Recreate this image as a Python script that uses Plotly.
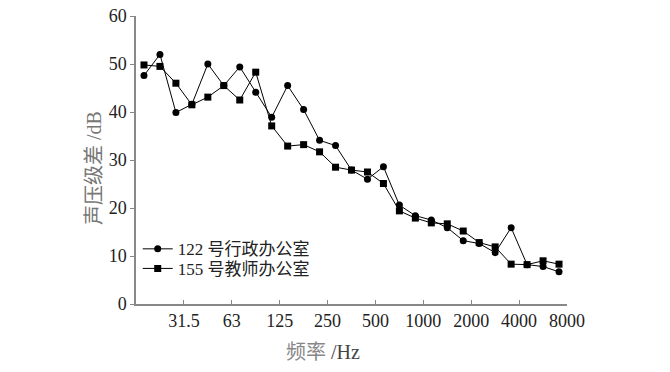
import plotly.graph_objects as go

bands = [20, 25, 31.5, 40, 50, 63, 80, 100, 125, 160, 200, 250, 315, 400, 500,
         630, 800, 1000, 1250, 1600, 2000, 2500, 3150, 4000, 5000, 6300, 8000]
office_122 = [47.6, 52.0, 39.9, 41.6, 50.0, 45.5, 49.4, 44.1, 38.9, 45.5, 40.5,
              34.1, 33.0, 27.9, 26.0, 28.6, 20.6, 18.4, 17.5, 15.9, 13.2, 12.6,
              10.7, 15.9, 8.2, 7.8, 6.7]
office_155 = [49.8, 49.5, 46.0, 41.5, 43.1, 45.5, 42.5, 48.3, 37.1, 32.9, 33.2,
              31.7, 28.5, 27.9, 27.5, 25.1, 19.4, 17.9, 16.9, 16.7, 15.2, 12.8,
              11.9, 8.3, 8.2, 9.0, 8.3]
tick_labels = ["31.5", "63", "125", "250", "500", "1000", "2000", "4000", "8000"]
series_names = ["122 号行政办公室", "155 号教师办公室"]

idx = list(range(len(bands)))
tick_pos = [i * 3 + 2.5 for i in range(len(tick_labels))]

SERIF = "'Liberation Serif', 'Noto Sans CJK SC'"

fig = go.Figure()
fig.add_trace(go.Scatter(
    x=idx, y=office_122, mode="lines+markers", name=series_names[0],
    line=dict(color="black", width=1),
    marker=dict(symbol="circle", size=7, color="black"),
    customdata=bands, legend="legend"))
fig.add_trace(go.Scatter(
    x=idx, y=office_155, mode="lines+markers", name=series_names[1],
    line=dict(color="black", width=1),
    marker=dict(symbol="square", size=7, color="black"),
    customdata=bands, legend="legend2"))

axis_font = dict(family=SERIF, size=18, color="#222")
leg_common = dict(xanchor="left", yanchor="middle", bgcolor="rgba(0,0,0,0)",
                  font=dict(family=SERIF, size=17, color="#222"), itemwidth=30)
fig.update_layout(
    width=670, height=372,
    margin=dict(l=136, r=103, t=16, b=68, autoexpand=False),
    paper_bgcolor="white", plot_bgcolor="white",
    font=dict(family=SERIF, color="#222"),
    showlegend=True,
    legend=dict(x=0.004, y=0.19, **leg_common),
    legend2=dict(x=0.004, y=0.122, **leg_common),
    xaxis=dict(range=[-0.5, 26.5], tickmode="array", tickvals=tick_pos,
               ticktext=tick_labels, ticks="inside", ticklen=4, tickcolor="#888",
               showline=True, linecolor="#888", linewidth=1.5, showgrid=False,
               zeroline=False, tickfont=axis_font, automargin=False,
               ticklabeloverflow="allow"),
    yaxis=dict(range=[0, 60], dtick=10, ticks="outside", ticklen=4, tickcolor="#888",
               showline=True, linecolor="#888", linewidth=1.5, showgrid=False,
               zeroline=False, tickfont=axis_font, automargin=False,
               ticklabeloverflow="allow"),
    annotations=[
        dict(text="<span style='color:#888'>频率</span> /Hz", xref="paper", yref="paper",
             x=0.434, y=-0.167, xanchor="center", yanchor="middle",
             showarrow=False, font=dict(family=SERIF, size=20, color="#444")),
        dict(text="声压级差 /dB", xref="paper", yref="paper", textangle=-90,
             x=-0.0975, y=0.472, xanchor="center", yanchor="middle",
             showarrow=False, font=dict(family=SERIF, size=20, color="#777")),
    ],
)

fig.write_html("out.html", config={"displayModeBar": False},
               post_script="document.body.style.margin='0';")
